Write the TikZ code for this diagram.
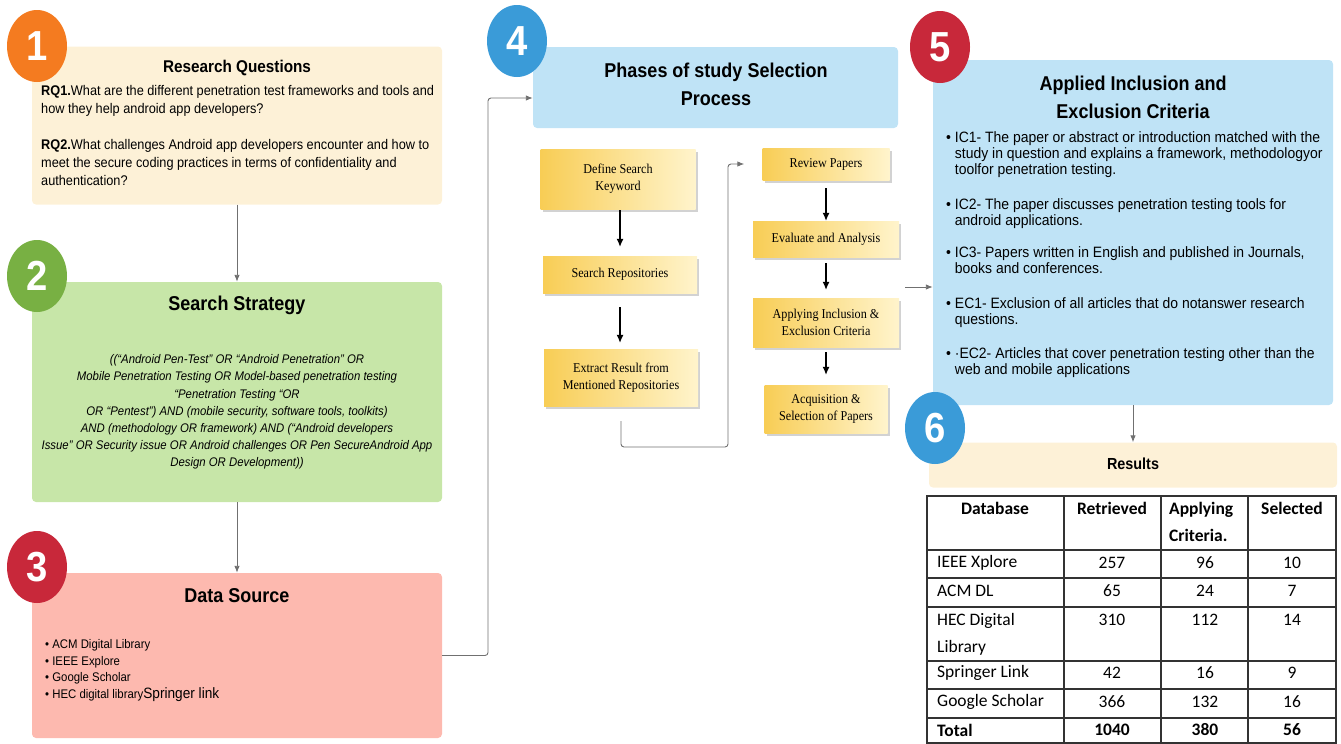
\documentclass[tikz,border=0pt]{standalone}
\usepackage{fontspec}
\setmainfont{Liberation Sans}
\newfontfamily\nsans{Liberation Sans}[FakeStretch=0.91]
\newfontfamily\tsans{Liberation Sans}[FakeStretch=0.9]
\newfontfamily\csans{Liberation Sans}[FakeStretch=0.93]
\newfontfamily\nserif{Liberation Serif}[FakeStretch=0.9]
\newfontfamily\tabfont{Carlito}
\usetikzlibrary{arrows.meta,shadows,shapes.geometric}
\definecolor{cOrange}{HTML}{F47B20}
\definecolor{cGreen}{HTML}{78B043}
\definecolor{cRed}{HTML}{C8283A}
\definecolor{cBlue}{HTML}{3A9BD8}
\definecolor{fCream}{HTML}{FDF1D7}
\definecolor{fGreen}{HTML}{C7E6A8}
\definecolor{fPink}{HTML}{FDB9AF}
\definecolor{fBlue}{HTML}{BFE3F6}
\definecolor{yDark}{HTML}{F8CD55}
\definecolor{yLight}{HTML}{FFF4CC}
\definecolor{lineGray}{HTML}{707070}
\definecolor{tabLine}{HTML}{333333}
\begin{document}
\begin{tikzpicture}[x=1pt,y=-1pt,
  panel/.style={rounded corners=4pt, inner sep=0pt, draw=none},
  badge/.style={ellipse, minimum width=60pt, minimum height=72pt, inner sep=0pt, text=white, font=\nsans\bfseries\fontsize{42}{42}\selectfont},
  ttl/.style={font=\tsans\bfseries\fontsize{20}{28}\selectfont, align=center, inner sep=0pt},
  body/.style={font=\nsans\fontsize{14}{18}\selectfont, align=left, inner sep=0pt, anchor=north west},
  crit/.style={font=\csans\fontsize{15}{16.3}\selectfont, align=left, inner sep=0pt, anchor=north west},
  ybox/.style={inner sep=2pt, align=center, left color=yDark, right color=yLight, drop shadow={shadow xshift=2pt, shadow yshift=-3pt, fill=black!35}, font=\nserif\fontsize{13.5}{17}\selectfont},
  garrow/.style={draw=lineGray, line width=0.9pt, rounded corners=3pt, -{Latex[length=7pt,width=5.5pt]}},
  barrow/.style={draw=black, line width=1.1pt, -{Latex[length=8pt,width=7pt]}},
  cell/.style={font=\tabfont\fontsize{17.5}{27}\selectfont, inner sep=0pt},
  cellb/.style={cell, font=\tabfont\bfseries\fontsize{17.5}{27}\selectfont}
]
\useasboundingbox (0,0) rectangle (1341,744);

% ---------- panels ----------
\node[panel, fill=fCream, minimum width=410pt, minimum height=158pt] (b1) at (237,125.5) {};
\node[panel, fill=fGreen, minimum width=410pt, minimum height=220pt] (b2) at (237,392) {};
\node[panel, fill=fPink, minimum width=410pt, minimum height=165pt] (b3) at (237,655.5) {};
\node[panel, fill=fBlue, minimum width=365pt, minimum height=81pt] (b4) at (715.5,87.5) {};
\node[panel, fill=fBlue, minimum width=400pt, minimum height=345pt] (b5) at (1133,232.5) {};
\node[panel, fill=fCream, minimum width=408pt, minimum height=45pt] (b6) at (1133,465) {};

% ---------- badges ----------
\node[badge, fill=cOrange] (n1) at (37,46) {1};
\node[badge, fill=cGreen] (n2) at (37,276) {2};
\node[badge, fill=cRed] (n3) at (37,567) {3};
\node[badge, fill=cBlue] (n4) at (517,41) {4};
\node[badge, fill=cRed] (n5) at (940,47) {5};
\node[badge, fill=cBlue] (n6) at (935,428) {6};

% ---------- panel 1 ----------
\node[ttl, font=\tsans\bfseries\fontsize{17}{20}\selectfont] (t1) at (237,68) {Research Questions};
\node[body] (q1) at (41,85) {\textbf{RQ1.}What are the different penetration test frameworks and tools and\\
how they help android app developers?\\[18pt]
\textbf{RQ2.}What challenges Android app developers encounter and how to\\
meet the secure coding practices in terms of confidentiality and\\
authentication?};

% ---------- panel 2 ----------
\node[ttl] (t2) at (237,305) {Search Strategy};
\node[font=\nsans\itshape\fontsize{12.5}{17.2}\selectfont, align=center, inner sep=0pt] (s2) at (237,412) {((“Android Pen-Test” OR “Android Penetration” OR\\
Mobile Penetration Testing OR Model-based penetration testing\\
“Penetration Testing “OR\\
OR “Pentest”) AND (mobile security, software tools, toolkits)\\
AND (methodology OR framework) AND (“Android developers\\
Issue” OR Security issue OR Android challenges OR Pen SecureAndroid App\\
Design OR Development))};

% ---------- panel 3 ----------
\node[ttl] (t3) at (237,596) {Data Source};
\node[font=\nsans\fontsize{12.5}{16.8}\selectfont, align=left, inner sep=0pt, anchor=north west] (s3) at (45,639) {• ACM Digital Library\\
• IEEE Explore\\
• Google Scholar\\
• HEC digital library{\fontsize{15}{16.8}\selectfont Springer link}};

% ---------- panel 4 ----------
\node[ttl] (t4) at (716,84) {Phases of study Selection\\Process};
\node[ybox, minimum width=155pt, minimum height=60pt] (def) at (618,179) {Define Search\\Keyword};
\node[ybox, minimum width=154pt, minimum height=37pt] (srch) at (620,274.5) {Search Repositories};
\node[ybox, minimum width=154pt, minimum height=57pt] (ext) at (621,377.5) {Extract Result from\\Mentioned Repositories};
\node[ybox, minimum width=127pt, minimum height=32pt] (rev) at (826,164) {Review Papers};
\node[ybox, minimum width=146pt, minimum height=36pt] (eva) at (826,239) {Evaluate and Analysis};
\node[ybox, minimum width=146pt, minimum height=49pt] (app) at (826,322.5) {Applying Inclusion \&\\Exclusion Criteria};
\node[ybox, minimum width=123pt, minimum height=48pt] (acq) at (826,409) {Acquisition \&\\Selection of Papers};

\draw[barrow, shorten <=1pt, shorten >=9pt] (srch.north |- def.south) -- (srch.north);
\draw[barrow, shorten <=14pt, shorten >=6pt] (srch.south) -- (srch.south |- ext.north);
\draw[barrow, shorten <=8pt] (rev.south) -- (eva.north);
\draw[barrow, shorten <=6pt, shorten >=8pt] (eva.south) -- (app.north);
\draw[barrow, shorten <=5pt, shorten >=10pt] (app.south) -- (acq.north);
\draw[garrow, shorten <=15pt, shorten >=18pt] (ext.south) |- (728,447) |- (rev.west);

% ---------- panel 5 ----------
\node[ttl] (t5) at (1133,97.5) {Applied Inclusion and\\Exclusion Criteria};
\node[crit] (c1) at (946,131) {• IC1- The paper or abstract or introduction matched with the\\
\hphantom{• }study in question and explains a framework, methodologyor\\
\hphantom{• }toolfor penetration testing.};
\node[crit] (c2) at (946,198) {• IC2- The paper discusses penetration testing tools for\\
\hphantom{• }android applications.};
\node[crit] (c3) at (946,246) {• IC3- Papers written in English and published in Journals,\\
\hphantom{• }books and conferences.};
\node[crit] (c4) at (946,297) {• EC1- Exclusion of all articles that do notanswer research\\
\hphantom{• }questions.};
\node[crit] (c5) at (946,347) {• ·EC2- Articles that cover penetration testing other than the\\
\hphantom{• }web and mobile applications};

% ---------- panel 6 ----------
\node[font=\tsans\bfseries\fontsize{16}{18}\selectfont, inner sep=0pt] (t6) at (1133,464) {Results};

% table
\draw[tabLine, line width=1.6pt] (927,496) rectangle (1336,743);
\foreach \yy in {550,578,607,661,689,718} \draw[tabLine, line width=1.6pt] (927,\yy) -- (1336,\yy);
\foreach \xx in {1064,1161,1248} \draw[tabLine, line width=1.6pt] (\xx,496) -- (\xx,743);

\node[cellb] (h1) at (995,508) {Database};
\node[cellb] (h2) at (1112,508) {Retrieved};
\node[cellb, align=left, anchor=north west, font=\tabfont\bfseries\fontsize{17.5}{27}\selectfont] (h3) at (1169,502) {Applying\\Criteria.};
\node[cellb] (h4) at (1292,508) {Selected};

\node[cell, anchor=west] (r1) at (937,563) {IEEE Xplore};
\node[cell] (r1b) at (1112,563) {257};
\node[cell] (r1c) at (1205,563) {96};
\node[cell] (r1d) at (1292,563) {10};

\node[cell, anchor=west] (r2) at (937,591) {ACM DL};
\node[cell] (r2b) at (1112,591) {65};
\node[cell] (r2c) at (1205,591) {24};
\node[cell] (r2d) at (1292,591) {7};

\node[cell, anchor=north west, align=left, font=\tabfont\fontsize{17.5}{27}\selectfont] (r3) at (937,613) {HEC Digital\\Library};
\node[cell] (r3b) at (1112,620) {310};
\node[cell] (r3c) at (1205,620) {112};
\node[cell] (r3d) at (1292,620) {14};

\node[cell, anchor=west] (r4) at (937,673) {Springer Link};
\node[cell] (r4b) at (1112,673) {42};
\node[cell] (r4c) at (1205,673) {16};
\node[cell] (r4d) at (1292,673) {9};

\node[cell, anchor=west] (r5) at (937,702) {Google Scholar};
\node[cell] (r5b) at (1112,702) {366};
\node[cell] (r5c) at (1205,702) {132};
\node[cell] (r5d) at (1292,702) {16};

\node[cellb, anchor=west] (r6) at (937,730) {Total};
\node[cellb] (r6b) at (1112,730) {1040};
\node[cellb] (r6c) at (1205,730) {380};
\node[cellb] (r6d) at (1292,730) {56};

% ---------- connectors ----------
\draw[garrow] (b1.south) -- (b2.north);
\draw[garrow] (b2.south) -- (b3.north);
\draw[garrow] (b3.east) -- (488,655.5) -- (488,98) -- ([yshift=-10.5pt]b4.west);
\coordinate (b5in) at (905,287);
\draw[garrow] (b5in) -- (b5in -| b5.west);
\draw[garrow] (b5.south) -- (b6.north);
\end{tikzpicture}
\end{document}
